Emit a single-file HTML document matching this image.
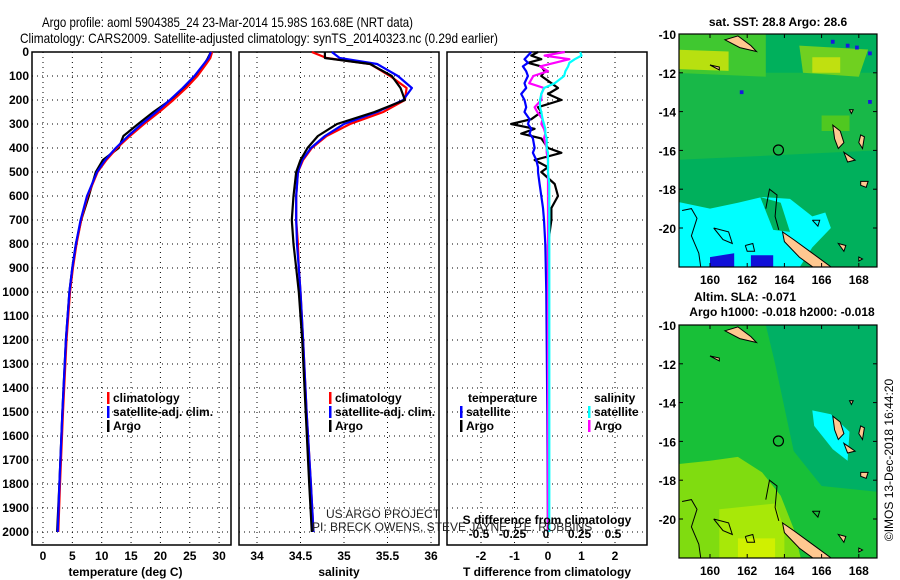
<!DOCTYPE html>
<html><head><meta charset="utf-8">
<style>
html,body{margin:0;padding:0;background:#fff;}
svg{display:block;font-family:"Liberation Sans",sans-serif;}
.tk{font-size:12px;font-weight:bold;fill:#000;}
.ttl{font-size:14px;fill:#000;}
</style></head>
<body>
<svg id="fig" width="900" height="580" viewBox="0 0 900 580" xmlns="http://www.w3.org/2000/svg">
<text class="ttl" x="42" y="27" textLength="371" lengthAdjust="spacingAndGlyphs">Argo profile: aoml 5904385_24 23-Mar-2014 15.98S 163.68E (NRT data)</text>
<text class="ttl" x="20" y="43" textLength="478" lengthAdjust="spacingAndGlyphs">Climatology: CARS2009. Satellite-adjusted climatology: synTS_20140323.nc (0.29d earlier)</text>
<g id="g1"></g>
<g id="g2"></g>
<g id="g3"></g>
<g id="cr"></g>
<g id="m1"></g>
<g id="m2"></g>
<text x="893" y="460" font-size="12" text-anchor="middle" transform="rotate(-90 893 460)">©IMOS 13-Dec-2018 16:44:20</text>
</svg>
<script>
// ---- data ----
const depths = [0,25,50,100,150,200,250,300,350,400,450,500,600,700,800,900,1000,1200,1500,1800,2000];
const tClim  = [28.8,28.5,27.8,26.3,24.4,22.2,19.8,17.2,14.8,12.6,10.8,9.3,7.6,6.5,5.7,5.1,4.6,4.0,3.4,2.9,2.6];
const tSat   = [28.6,28.2,27.4,25.8,23.8,21.6,19.3,16.8,14.5,12.4,10.6,9.2,7.5,6.4,5.6,5.0,4.5,3.9,3.3,2.8,2.5];
const tArgo  = [28.6,28.1,27.5,25.9,24.2,21.7,18.8,16.2,13.7,12.9,10.2,9.0,7.8,6.5,5.6,5.0,4.5,3.9,3.3,2.8,2.4];
const sClim  = [34.63,34.8,35.3,35.53,35.72,35.7,35.45,35.07,34.8,34.63,34.53,34.47,34.45,34.45,34.47,34.48,34.5,34.53,34.57,34.62,34.65];
const sSat   = [34.86,34.95,35.38,35.62,35.78,35.68,35.38,35.0,34.78,34.62,34.52,34.47,34.45,34.45,34.46,34.48,34.5,34.53,34.57,34.62,34.65];
const sArgo  = [34.78,34.78,35.3,35.55,35.65,35.7,35.35,34.92,34.7,34.58,34.5,34.45,34.42,34.4,34.42,34.45,34.48,34.52,34.56,34.6,34.63];
const diffDepths = [0,15,30,45,60,80,100,130,150,175,200,230,250,280,300,320,340,360,400,420,450,480,500,550,600,650,700,800,1000,1500,2000];
const dTSat  = [-0.5,-0.6,-0.7,-0.6,-0.75,-0.65,-0.6,-0.7,-0.65,-0.8,-0.7,-0.65,-0.7,-0.55,-0.6,-0.5,-0.55,-0.45,-0.4,-0.45,-0.35,-0.3,-0.3,-0.25,-0.2,-0.15,-0.12,-0.08,-0.05,-0.02,0];
const dTArgo = [-0.3,-0.5,-0.2,-0.6,-0.2,-0.1,-0.2,0.1,0.3,0.0,0.4,-0.3,-0.2,-0.5,-1.1,-0.4,-0.8,-0.2,0.0,0.4,-0.4,0.0,-0.2,0.2,0.3,0.1,0.1,0.0,0.0,0.0,0.0];
const dSSat  = [0.24,0.25,0.2,0.16,0.15,0.13,0.12,0.05,-0.03,-0.05,-0.06,-0.06,-0.05,-0.04,-0.03,-0.02,-0.02,-0.01,-0.01,0,0,0,0,0.01,0.01,0.01,0.01,0.01,0.01,0.01,0.01];
const dSArgo = [0.125,-0.025,0.16,0.05,-0.06,0.0,-0.11,-0.14,-0.03,-0.05,-0.05,-0.1,-0.08,-0.04,-0.05,-0.03,-0.02,-0.03,-0.01,-0.01,0,0,0,0,0,0,0,0,0,0,0];
const depthTicks = [0,100,200,300,400,500,600,700,800,900,1000,1100,1200,1300,1400,1500,1600,1700,1800,1900,2000];
const tTicks = [0,5,10,15,20,25,30];
const sTicks = [34,34.5,35,35.5,36];
const sTickLabels = ["34","34.5","35","35.5","36"];
const dTicks = [-2,-1,0,1,2];
const dsTicks = [-0.5,-0.25,0,0.25,0.5];
const dsTickLabels = ["-0.5","-0.25","0","0.25","0.5"];
const latTicks = [-10,-12,-14,-16,-18,-20];
const lonTicks = [160,162,164,166,168];
const argoLon = 163.68, argoLat = -15.98;

// ---- scales ----
const TOP=52, BOT=545;
const yD = d => TOP + d*0.24;
const xT = t => 43 + t*5.87;
const xS = s => 257 + (s-34)*87;
const xD = v => 548 + v*33.5;
const xDS = s => xD(s*4);
const NS='http://www.w3.org/2000/svg';
function mk(parent,tag,attrs){const e=document.createElementNS(NS,tag);for(const k in attrs)e.setAttribute(k,attrs[k]);parent.appendChild(e);return e;}
function txt(parent,x,y,s,cls,anchor){const e=mk(parent,'text',{x:x,y:y,'text-anchor':anchor||'middle'});if(cls)e.setAttribute('class',cls);e.textContent=s;return e;}

function panel(g,x0,x1,ticks,labels,xf,xlabel,name){
  mk(g,'rect',{x:x0,y:TOP,width:x1-x0,height:BOT-TOP,fill:'#fff',stroke:'#000','stroke-width':1.5});
  depthTicks.forEach(d=>{
    const l=mk(g,'line',{x1:x0,x2:x1,y1:yD(d),y2:yD(d),stroke:'#000','stroke-width':1,'stroke-dasharray':'1,4'});
    
    
  });
  ticks.forEach((v,i)=>{
    const l=mk(g,'line',{x1:xf(v),x2:xf(v),y1:TOP,y2:BOT,stroke:'#000','stroke-width':1,'stroke-dasharray':'1,4'});
    
    
    const t=txt(g,xf(v),560,labels[i],'tk');
    
    
  });
  const xl=txt(g,(x0+x1)/2+ (name==='t'?-6:0),576,xlabel,'tk');
  
  
}
function line(g,xs,ds,xf,color,nm){
  const pts=xs.map((v,i)=>xf(v).toFixed(1)+','+yD(ds[i]).toFixed(1)).join(' ');
  const p=mk(g,'polyline',{points:pts,fill:'none',stroke:color,'stroke-width':2.2,'stroke-linejoin':'round'});
  
  
}
function legend(g,x,y,items){
  items.forEach((it,i)=>{
    mk(g,'rect',{x:x,y:y+i*14-10,width:2.5,height:12,fill:it[1]});
    const t=txt(g,x+6,y+i*14,it[0],'tk','start');
    
    
  });
}

const g1=document.getElementById('g1'),g2=document.getElementById('g2'),g3=document.getElementById('g3');
panel(g1,32,231,tTicks,tTicks.map(String),xT,'temperature (deg C)','t');
depthTicks.forEach(d=>{const t=txt(g1,29,yD(d)+4,String(d),'tk','end');});
line(g1,tArgo,depths,xT,'#000','temp-argo-line');
line(g1,tClim,depths,xT,'#f00','temp-climatology-line');
line(g1,tSat,depths,xT,'#00f','temp-satellite-line');
legend(g1,107,402,[['climatology','#f00'],['satellite-adj. clim.','#00f'],['Argo','#000']]);

panel(g2,239,439,sTicks,sTickLabels,xS,'salinity','s');
line(g2,sClim,depths,xS,'#f00','sal-climatology-line');
line(g2,sSat,depths,xS,'#00f','sal-satellite-line');
line(g2,sArgo,depths,xS,'#000','sal-argo-line');
legend(g2,329,402,[['climatology','#f00'],['satellite-adj. clim.','#00f'],['Argo','#000']]);

panel(g3,447,647,dTicks,dTicks.map(String),xD,'T difference from climatology','d');
line(g3,dTArgo,diffDepths,xD,'#000','tdiff-argo-line');
line(g3,dTSat,diffDepths,xD,'#00f','tdiff-satellite-line');
line(g3,dSArgo,diffDepths,xDS,'#f0f','sdiff-argo-line');
line(g3,dSSat,diffDepths,xDS,'#0ff','sdiff-satellite-line');
const th=txt(g3,468,402,'temperature','tk','start');
const sh=txt(g3,594,402,'salinity','tk','start');
legend(g3,460,416,[['satellite','#00f'],['Argo','#000']]);
legend(g3,588,416,[['satellite','#0ff'],['Argo','#f0f']]);
const st=txt(g3,547,524,'S difference from climatology','tk');
dsTicks.forEach((v,i)=>{const t=txt(g3,xDS(v)-2,538,dsTickLabels[i],'tk');});

const cr=document.getElementById('cr');
const us=txt(cr,326,518,'US ARGO PROJECT',null,'start');us.setAttribute('font-size','12');us.setAttribute('fill','#222');

const pi=txt(cr,312,531,'PI: BRECK OWENS, STEVE JAYNE, P.E. ROBBINS',null,'start');pi.setAttribute('font-size','12');pi.setAttribute('fill','#222');


// ---- maps ----
function map(g,top,kind){
  const L=679,R=877,B=top+233;
  const X=lon=>710+(lon-160)*18.6, Y=lat=>top+(-10-lat)*19.4;
  const poly=(pts,fill,stroke,sw)=>mk(g,'polygon',{points:pts.map(p=>X(p[0]).toFixed(1)+','+Y(p[1]).toFixed(1)).join(' '),fill:fill,stroke:stroke||'none','stroke-width':sw||0});
  const pl=(pts)=>mk(g,'polyline',{points:pts.map(p=>X(p[0]).toFixed(1)+','+Y(p[1]).toFixed(1)).join(' '),fill:'none',stroke:'#000','stroke-width':1});
  const clip='clip'+top;
  const cp=mk(g,'clipPath',{id:clip});mk(cp,'rect',{x:L,y:top,width:R-L,height:B-top});
  const inner=mk(g,'g',{'clip-path':'url(#'+clip+')'});
  const G=g; g=inner;
  if(kind===1){
    mk(g,'rect',{x:L,y:top,width:R-L,height:B-top,fill:'#00b05c'});
    poly([[158,-12],[169,-12],[169,-16],[158,-16.5]],'#18b848');
    poly([[158,-10],[163,-10],[163,-12.2],[158,-12]],'#40c830');
    poly([[158,-10.8],[161,-10.9],[161,-11.9],[158,-11.8]],'#b8e010');
    poly([[164.8,-10.6],[168.5,-10.8],[168,-12.2],[165,-12]],'#70d020');
    poly([[165.5,-11.2],[167,-11.2],[167,-12],[165.5,-12]],'#c0e010');
    poly([[166,-14.2],[167.5,-14.2],[167.5,-15],[166,-15]],'#50c820');
    poly([[158,-18.6],[160,-19],[161.5,-18.7],[162.8,-18.4],[164.3,-18.5],[165.5,-19.4],[166.2,-19.2],[166.5,-20],[165.5,-21],[164.5,-22.5],[158,-22.5]],'#00ffff');
    poly([[162.7,-18.4],[163.8,-18.7],[164.3,-20.2],[163.4,-20.1]],'#00b05c');
    poly([[160,-21.5],[161.3,-21.3],[161.3,-22.5],[160,-22.5]],'#1010d8');
    poly([[162.2,-21.4],[163.4,-21.4],[163.4,-22.5],[162.2,-22.5]],'#1010d8');
    [[166.5,-10.3],[167.8,-10.6],[168.5,-10.9],[167.3,-10.5],[161.6,-12.9],[168.5,-13.4]].forEach(c=>poly([[c[0],c[1]],[c[0]+0.2,c[1]],[c[0]+0.2,c[1]-0.2],[c[0],c[1]-0.2]],'#1818e0'));
  } else {
    mk(g,'rect',{x:L,y:top,width:R-L,height:B-top,fill:'#18c038'});
    poly([[163,-10],[169,-10],[169,-18.6],[166,-18.3],[164.5,-16.5],[163.5,-12]],'#00b064');
    poly([[158,-17.2],[160,-17],[161.5,-16.8],[162.8,-17.6],[163.8,-18.8],[164.5,-20.5],[165,-22.5],[158,-22.5]],'#80dc10');
    poly([[160.5,-19.5],[163.5,-19.2],[164,-20.5],[164,-22.5],[160.5,-22.5]],'#a8e808');
    poly([[161.5,-21],[163.5,-21],[163.5,-22.5],[161.5,-22.5]],'#d0f000');
    poly([[165.5,-14.4],[166.5,-14.6],[167.5,-15.5],[167.4,-17],[166.6,-16.4],[165.6,-15.2]],'#00ffff');
  }
  const isl=[
    [[160.8,-10.3],[161.5,-10.1],[162.2,-10.6],[162.5,-10.9],[161.6,-10.7]],
    [[163.9,-20.2],[164.5,-20.6],[165.5,-21.3],[166.5,-22.0],[166.8,-22.4],[165.8,-22.2],[164.8,-21.5],[164.0,-20.7]],
    [[166.6,-14.7],[167.0,-15.0],[167.2,-15.6],[166.9,-15.9],[166.7,-15.4]],
    [[167.2,-16.1],[167.5,-16.3],[167.8,-16.5],[167.4,-16.6]],
    [[168.1,-17.6],[168.5,-17.6],[168.4,-17.9],[168.1,-17.8]],
    [[168.1,-15.2],[168.3,-15.3],[168.2,-15.9],[168.0,-15.6]],
    [[167.5,-13.9],[167.7,-13.9],[167.6,-14.1]],
    [[160.0,-11.6],[160.5,-11.7],[160.5,-11.85]],
    [[166.9,-20.8],[167.3,-20.9],[167.2,-21.2]],
    [[168.0,-21.5],[168.2,-21.6],[168.0,-21.7]]
  ];
  isl.forEach(p=>poly(p,'#ffc890','#000',1));
  pl([[158.5,-19.1],[159,-19.0],[159.3,-19.5],[159.0,-20.4],[159.4,-21.3],[159.5,-22]]);
  pl([[163.0,-19.0],[163.2,-18.0],[163.6,-18.3],[163.5,-19.4],[163.7,-20.1]]);
  pl([[160.2,-20.0],[161.0,-20.2],[161.2,-20.8],[160.7,-20.6],[160.2,-20.0]]);
  pl([[161.9,-20.9],[162.3,-20.8],[162.4,-21.2],[162.0,-21.2],[161.9,-20.9]]);
  pl([[165.5,-19.6],[165.9,-19.6],[165.8,-19.9],[165.5,-19.6]]);
  const c=mk(g,'circle',{cx:X(argoLon),cy:Y(argoLat),r:5,fill:'none',stroke:'#000','stroke-width':1.2});
  
  
  g=G;
  mk(g,'rect',{x:L,y:top,width:R-L,height:B-top,fill:'none',stroke:'#000','stroke-width':1.2});
  latTicks.forEach(v=>{
    mk(g,'line',{x1:L,x2:L+4,y1:Y(v),y2:Y(v),stroke:'#000'});
    mk(g,'line',{x1:R-4,x2:R,y1:Y(v),y2:Y(v),stroke:'#000'});
    const t=txt(g,676,Y(v)+5,String(v),'tk','end');
    
    
  });
  lonTicks.forEach(v=>{
    mk(g,'line',{x1:X(v),x2:X(v),y1:top,y2:top+4,stroke:'#000'});
    mk(g,'line',{x1:X(v),x2:X(v),y1:B-4,y2:B,stroke:'#000'});
    const t=txt(g,X(v),B+17,String(v),'tk');
    
    
  });
}
map(document.getElementById('m1'),34,1);
map(document.getElementById('m2'),325,2);
const mt1=txt(document.getElementById('m1'),778,26,'sat. SST: 28.8 Argo: 28.6','tk');


const mt2=txt(document.getElementById('m2'),745,301,'Altim. SLA: -0.071','tk');


const mt3=txt(document.getElementById('m2'),782,316,'Argo h1000: -0.018 h2000: -0.018','tk');


</script>
</body></html>
